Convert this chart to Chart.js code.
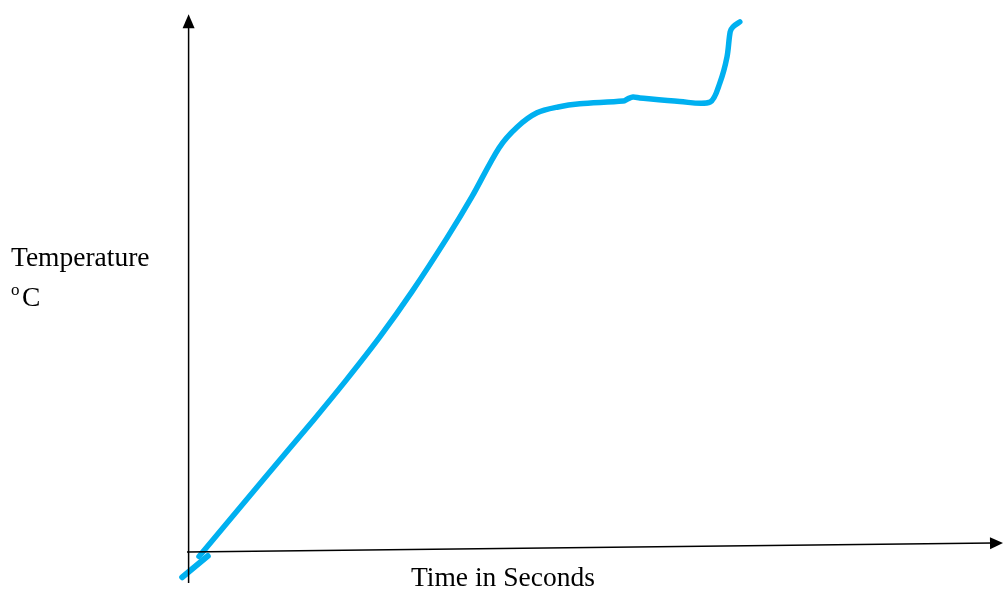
<!DOCTYPE html>
<html>
<head>
<meta charset="utf-8">
<script src="https://cdn.jsdelivr.net/npm/chart.js@4/dist/chart.umd.min.js"></script>
<style>
  html, body { margin: 0; padding: 0; background: #fff; }
  #wrap { width: 1003px; height: 591px; position: relative; }
</style>
</head>
<body>
<div id="wrap"><canvas id="heating-curve"></canvas></div>
<script>
// time (s) and temperature (C)
var timeSec = [1.5, 9.5, 15.8, 19.9, 24.1, 28.1, 32.5, 35.6, 39.0, 41.25, 43.75, 46.4, 49.1, 54.5, 55.1, 55.75, 56.6, 61.6, 65.4, 66.6, 67.5, 67.9, 68.25, 69.1];
var tempC   = [-1.0, 16.0, 29.3, 38.2, 47.8, 57.8, 69.8, 78.9, 89.8, 94.4, 97.6, 98.9, 99.6, 100.2, 100.7, 101.1, 100.9, 100.1, 100.0, 104.2, 110.0, 115.6, 116.7, 117.8];

// little stroke below the origin
var hookTime = [-0.6, 2.6];
var hookTemp = [-5.6, -0.9];

// axis extent
var xAxisEnd = 102;
var xAxisEndTemp = 2;
var yAxisTop = 119.3;
var yAxisBottom = -6.9;

var lineColor = "#00b0f0";

function pairs(xs, ys) {
	return xs.map(function(x, i) { return { x: x, y: ys[i] }; });
}

var axesPlugin = {
	id: "sketchAxes",
	afterDraw: function(chart) {
		var c = chart.ctx;
		var xs = chart.scales.x, ys = chart.scales.y;
		c.save();
		c.strokeStyle = "#000";
		c.fillStyle = "#000";
		c.lineWidth = 1.5;

		// vertical axis
		var vx = xs.getPixelForValue(0.2);
		var vTop = ys.getPixelForValue(yAxisTop);
		var vBot = ys.getPixelForValue(yAxisBottom);
		c.beginPath();
		c.moveTo(vx, vBot);
		c.lineTo(vx, vTop + 10);
		c.stroke();
		c.beginPath();
		c.moveTo(vx, vTop - 1);
		c.lineTo(vx - 6, vTop + 13);
		c.lineTo(vx + 6, vTop + 13);
		c.closePath();
		c.fill();

		// horizontal axis, slightly tilted as drawn
		var hx0 = xs.getPixelForValue(0), hy0 = ys.getPixelForValue(0);
		var hx1 = xs.getPixelForValue(xAxisEnd), hy1 = ys.getPixelForValue(xAxisEndTemp);
		var ang = Math.atan2(hy1 - hy0, hx1 - hx0);
		c.beginPath();
		c.moveTo(hx0, hy0);
		c.lineTo(hx1 - 10 * Math.cos(ang), hy1 - 10 * Math.sin(ang));
		c.stroke();
		c.translate(hx1, hy1);
		c.rotate(ang);
		c.beginPath();
		c.moveTo(0, 0);
		c.lineTo(-13, -6);
		c.lineTo(-13, 6);
		c.closePath();
		c.fill();
		c.restore();

		// labels
		c.save();
		c.fillStyle = "#000";
		c.textBaseline = "alphabetic";
		c.font = "27.5px 'Liberation Serif', 'Times New Roman', serif";
		c.fillText("Temperature", 11, 266);
		c.fillText("C", 22, 306);
		c.fillText("Time in Seconds", 411, 586);
		c.font = "17px 'Liberation Serif', 'Times New Roman', serif";
		c.fillText("o", 11, 295);
		c.restore();
	}
};

var chart = new Chart(document.getElementById("heating-curve"), {
	type: "line",
	data: {
		datasets: [
			{
				label: "Temperature",
				data: pairs(timeSec, tempC),
				borderColor: lineColor,
				borderWidth: 5.5,
				fill: false,
				pointRadius: 0,
				tension: 0.3,
				borderCapStyle: "round",
				borderJoinStyle: "round"
			},
			{
				label: "hook",
				data: pairs(hookTime, hookTemp),
				borderColor: lineColor,
				borderWidth: 6,
				fill: false,
				pointRadius: 0,
				borderCapStyle: "round"
			}
		]
	},
	options: {
		responsive: true,
		maintainAspectRatio: false,
		animation: false,
		layout: { padding: 0 },
		plugins: {
			legend: { display: false },
			tooltip: { enabled: false }
		},
		scales: {
			x: { type: "linear", min: -23.375, max: 102, display: false },
			y: { type: "linear", min: -8.667, max: 122.667, display: false }
		}
	},
	plugins: [axesPlugin]
});
</script>
</body>
</html>
